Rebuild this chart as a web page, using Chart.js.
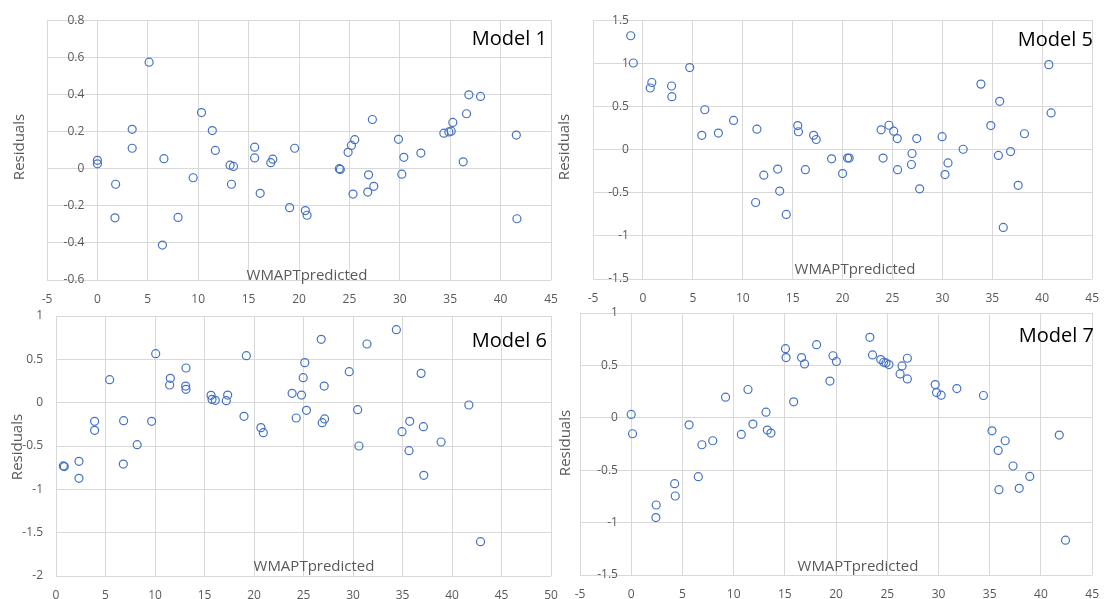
<!DOCTYPE html>
<html><head><meta charset="utf-8">
<script src="https://cdn.jsdelivr.net/npm/chart.js@4"></script>
<style>
html,body{margin:0;padding:0;background:#fff;}
#wrap{position:relative;width:1111px;height:599px;overflow:hidden;background:#fff;}
canvas{position:absolute;left:0;top:0;}
</style></head><body>
<div id="wrap">
<canvas id="c1" width="1111" height="640"></canvas>
<canvas id="c5" width="1111" height="640"></canvas>
<canvas id="c6" width="1111" height="640"></canvas>
<canvas id="c7" width="1111" height="640"></canvas>
</div>
<script>
// ---- data ----
const model1X = [0.0,0.0,1.81,1.74,3.45,3.45,5.13,6.6,6.45,8.0,9.5,10.33,11.4,11.7,13.16,13.5,13.3,15.6,15.6,16.15,17.2,17.4,19.57,19.07,20.63,20.8,24.0,24.1,24.87,25.2,25.53,25.36,26.9,26.82,27.42,27.28,29.87,30.4,30.2,32.09,34.37,34.87,35.1,35.26,36.29,36.62,36.85,38.01,41.56,41.62];
const model1Y = [0.045,0.026,-0.084,-0.265,0.212,0.11,0.574,0.054,-0.412,-0.263,-0.049,0.302,0.205,0.098,0.019,0.012,-0.084,0.116,0.058,-0.133,0.032,0.051,0.11,-0.21,-0.226,-0.251,0.0,-0.004,0.088,0.125,0.156,-0.137,-0.033,-0.126,-0.095,0.265,0.158,0.061,-0.03,0.084,0.191,0.198,0.202,0.249,0.037,0.296,0.398,0.389,0.181,-0.27];

const model5X = [-1.22,-0.96,0.89,0.73,2.87,2.9,4.69,6.2,5.9,7.56,9.08,11.42,11.29,12.11,13.5,13.7,14.36,15.51,15.58,16.27,17.1,17.36,18.9,20.0,20.5,20.66,23.86,24.65,25.12,25.48,24.06,25.51,27.43,26.96,26.9,27.72,29.97,30.56,30.26,32.08,33.86,34.85,35.74,35.61,36.83,36.1,37.59,38.22,40.66,40.89];
const model5Y = [1.32,1.004,0.778,0.714,0.737,0.613,0.951,0.462,0.165,0.192,0.338,0.237,-0.613,-0.297,-0.226,-0.481,-0.752,0.278,0.207,-0.233,0.165,0.117,-0.107,-0.278,-0.098,-0.098,0.229,0.282,0.214,0.128,-0.098,-0.233,0.128,-0.045,-0.173,-0.455,0.15,-0.154,-0.289,0.004,0.759,0.278,0.56,-0.068,-0.023,-0.902,-0.414,0.184,0.985,0.425];

const model6X = [0.74,0.84,2.32,2.32,3.9,3.9,5.42,6.83,6.8,8.2,9.66,10.07,11.55,11.48,13.13,13.1,13.13,15.66,15.76,16.09,17.34,17.2,18.99,19.23,20.7,20.94,26.79,31.41,34.38,25.13,24.97,27.09,23.85,24.8,29.62,36.88,25.3,24.26,27.13,26.89,30.47,30.6,35.73,34.95,37.11,35.66,38.9,37.15,41.7,42.88];
const model6Y = [-0.73,-0.737,-0.677,-0.873,-0.215,-0.319,0.265,-0.208,-0.708,-0.485,-0.215,0.565,0.281,0.204,0.4,0.192,0.154,0.085,0.038,0.027,0.088,0.023,-0.158,0.542,-0.288,-0.346,0.731,0.677,0.842,0.462,0.288,0.192,0.108,0.088,0.358,0.338,-0.088,-0.177,-0.188,-0.231,-0.081,-0.5,-0.215,-0.335,-0.277,-0.554,-0.454,-0.838,-0.027,-1.604];

const model7X = [0.0,0.13,2.44,2.41,4.24,4.3,5.65,6.9,7.96,6.55,9.21,11.4,10.75,11.88,13.16,13.29,13.64,15.06,15.12,15.86,16.63,16.92,18.1,19.4,19.7,20.03,23.3,23.56,24.36,24.65,24.87,25.16,26.96,26.44,26.25,26.96,29.68,29.81,30.26,31.79,34.39,35.22,36.51,35.83,37.28,38.91,35.9,37.88,41.79,42.4];
const model7Y = [0.032,-0.152,-0.832,-0.952,-0.629,-0.746,-0.067,-0.257,-0.219,-0.562,0.197,0.27,-0.159,-0.06,0.054,-0.117,-0.146,0.66,0.575,0.152,0.575,0.514,0.698,0.35,0.592,0.537,0.768,0.6,0.556,0.53,0.524,0.508,0.568,0.495,0.419,0.371,0.317,0.241,0.216,0.279,0.213,-0.124,-0.219,-0.311,-0.46,-0.559,-0.686,-0.673,-0.165,-1.168];

const xTicksA = [-5,0,5,10,15,20,25,30,35,40,45];
const xTicksB = [0,5,10,15,20,25,30,35,40,45,50];
const yTicks1 = [-0.6,-0.4,-0.2,0,0.2,0.4,0.6,0.8];
const yTicks5 = [-1.5,-1,-0.5,0,0.5,1,1.5];
const yTicks6 = [-2,-1.5,-1,-0.5,0,0.5,1];
const yTicks7 = [-1.5,-1,-0.5,0,0.5,1];

const panelTitles = ['Model 1','Model 5','Model 6','Model 7'];
const xAxisTitle = 'WMAPTpredicted';
const yAxisTitle = 'Residuals';

// ---- drawing ----
const FONT = '"Open Sans", "DejaVu Sans", sans-serif';
const GRID = '#d9d9d9';
const TXT = '#595959';
const BLUE = '#4472C4';
const W = 1111, H = 640, XAXIS_H = 40;

const panelText = {
  id: 'panelText',
  afterDraw(chart, args, o) {
    const ctx = chart.ctx;
    ctx.save();
    ctx.textBaseline = 'alphabetic';
    ctx.fillStyle = '#000';
    ctx.font = '20px ' + FONT;
    ctx.textAlign = 'right';
    ctx.fillText(o.title, o.titleAt[0], o.titleAt[1]);
    ctx.fillStyle = TXT;
    ctx.font = '15px ' + FONT;
    ctx.textAlign = 'center';
    ctx.fillText(xAxisTitle, o.xTitleAt[0], o.xTitleAt[1]);
    ctx.translate(o.yTitleAt[0], o.yTitleAt[1]);
    ctx.rotate(-Math.PI / 2);
    ctx.textBaseline = 'middle';
    ctx.fillText(yAxisTitle, 0, 0);
    ctx.restore();
  }
};

function fmt(v) { return String(Math.round(v * 10) / 10); }

function makePanel(id, xs, ys, xTicks, yTicks, area, yPos, text) {
  const pts = xs.map((x, i) => ({x: x, y: ys[i]}));
  const leftAxisW = (yPos === 'left') ? area.l : 0;
  new Chart(document.getElementById(id), {
    type: 'scatter',
    data: { datasets: [{
      data: pts,
      pointStyle: 'circle',
      pointRadius: 4,
      pointHoverRadius: 4,
      borderWidth: 1.2,
      borderColor: BLUE,
      backgroundColor: 'rgba(0,0,0,0)'
    }]},
    options: {
      responsive: false,
      animation: false,
      devicePixelRatio: 1,
      events: [],
      layout: { padding: {
        left: (yPos === 'left') ? 0 : area.l,
        top: area.t,
        right: W - area.r,
        bottom: H - area.b - XAXIS_H
      }},
      plugins: { legend: {display: false}, tooltip: {enabled: false}, panelText: text },
      scales: {
        x: {
          type: 'linear', position: 'bottom',
          min: xTicks[0], max: xTicks[xTicks.length - 1],
          afterBuildTicks: s => { s.ticks = xTicks.map(v => ({value: v})); },
          afterFit: s => { s.height = XAXIS_H; },
          grid: { color: GRID, lineWidth: 1, drawTicks: false },
          border: { display: false },
          ticks: { color: TXT, font: {family: FONT, size: 12}, padding: 12, maxRotation: 0, autoSkip: false, callback: v => fmt(v) }
        },
        y: {
          type: 'linear', position: yPos,
          min: yTicks[0], max: yTicks[yTicks.length - 1],
          afterBuildTicks: s => { s.ticks = yTicks.map(v => ({value: v})); },
          afterFit: s => { if (yPos === 'left') s.width = leftAxisW; },
          grid: { color: GRID, lineWidth: 1, drawTicks: false },
          border: { display: false },
          ticks: { color: TXT, font: {family: FONT, size: 12}, padding: 13, autoSkip: false, callback: v => fmt(v) }
        }
      }
    },
    plugins: [panelText]
  });
}

makePanel('c1', model1X, model1Y, xTicksA, yTicks1, {l: 47, r: 551, t: 14, b: 280}, {x: -1.3},
  {title: panelTitles[0], titleAt: [547, 45], xTitleAt: [307, 280], yTitleAt: [20, 147]});
makePanel('c5', model5X, model5Y, xTicksA, yTicks5, {l: 593, r: 1098, t: 14, b: 279}, {x: -1.4},
  {title: panelTitles[1], titleAt: [1093, 46], xTitleAt: [855, 274], yTitleAt: [565, 147]});
makePanel('c6', model6X, model6Y, xTicksB, yTicks6, {l: 56, r: 551, t: 316, b: 576}, 'left',
  {title: panelTitles[2], titleAt: [547, 347], xTitleAt: [314, 571], yTitleAt: [18, 447]});
makePanel('c7', model7X, model7Y, xTicksA, yTicks7, {l: 580, r: 1098, t: 313, b: 575}, {x: -1.3},
  {title: panelTitles[3], titleAt: [1094, 342], xTitleAt: [858, 571], yTitleAt: [566, 443]});
</script>
</body></html>
